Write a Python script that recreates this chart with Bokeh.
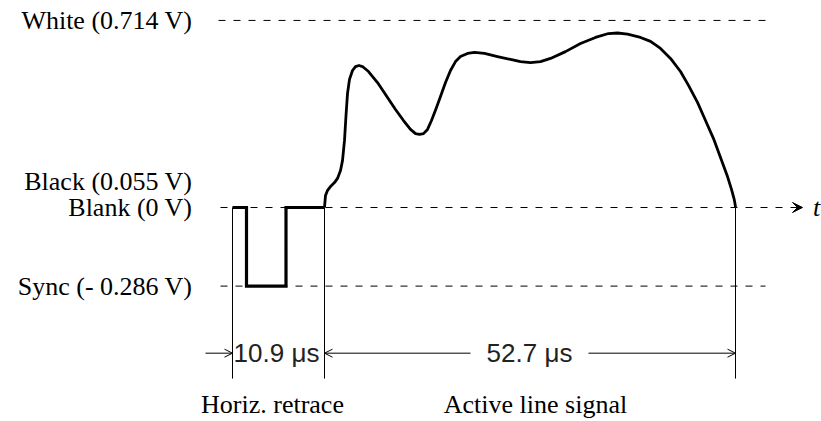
from bokeh.plotting import figure
from bokeh.models import Range1d, Arrow, OpenHead, VeeHead
from bokeh.core.properties import value
from bokeh.embed import file_html
from bokeh.resources import INLINE

# ---------------- data (diagram units) ----------------
# x: horizontal diagram position (0 = start of horizontal retrace)
# y: signal level in volts as drawn in the diagram (not to scale for sync)
level_names = ["White (0.714 V)", "Black (0.055 V)", "Blank (0 V)", "Sync (- 0.286 V)"]
level_volts = [0.714, 0.055, 0.0, -0.286]
white_y = 0.714
blank_y = 0.0
sync_y = -0.30          # drawn position of the sync level in the picture

retrace_start = 0.0
retrace_end = 92.0      # 10.9 us
active_end = 503.0      # +52.7 us
dim_labels = ["10.9 μs", "52.7 μs"]
section_labels = ["Horiz. retrace", "Active line signal"]

# sync pulse (blank -> sync -> blank)
pulse_x = [0.0, 14.0, 14.0, 53.5, 53.5, 92.0]
pulse_y = [0.0, 0.0, sync_y, sync_y, 0.0, 0.0]

# active line signal (video waveform)
wave_x = [92, 93, 95, 98, 102, 105, 108, 110, 112, 113.5, 115, 117, 120, 123,
          126.5, 130, 136, 145, 155, 163, 171, 178, 183, 187, 191, 195, 199,
          204, 208, 213, 218, 223, 228, 235, 242, 252, 265, 278, 288, 298, 308,
          318, 333, 348, 363, 376, 385, 395, 408, 418, 428, 438, 448, 456, 465,
          473, 481, 488, 495, 499, 501.5, 502.5, 503]
wave_y = [0.000, 0.046, 0.065, 0.080, 0.095, 0.111, 0.141, 0.179, 0.256, 0.351,
          0.435, 0.489, 0.523, 0.538, 0.542, 0.538, 0.519, 0.477, 0.420, 0.374,
          0.332, 0.298, 0.282, 0.279, 0.282, 0.298, 0.332, 0.382, 0.424, 0.477,
          0.523, 0.557, 0.576, 0.588, 0.592, 0.588, 0.576, 0.565, 0.557, 0.553,
          0.557, 0.569, 0.595, 0.626, 0.649, 0.664, 0.666, 0.662, 0.649, 0.634,
          0.607, 0.569, 0.519, 0.466, 0.401, 0.332, 0.263, 0.191, 0.118, 0.069,
          0.034, 0.015, 0.000]

# ---------------- figure ----------------
p = figure(width=821, height=421, output_backend="svg", toolbar_location=None,
           x_range=Range1d(-232, 589), y_range=Range1d(-0.81679, 0.79008),
           min_border=0, min_border_left=0, min_border_right=0,
           min_border_top=0, min_border_bottom=0)
p.axis.visible = False
p.grid.visible = False
p.outline_line_color = None
p.background_fill_color = "white"
p.border_fill_color = "white"

dash = "7 8"
# dashed level lines
p.segment(x0=[-14, -12, -12], y0=[white_y, blank_y, sync_y],
          x1=[533, 563, 533], y1=[white_y, blank_y, sync_y],
          line_color="black", line_width=1, line_dash=dash)
# t-axis arrow head
p.add_layout(Arrow(end=VeeHead(size=10, line_width=1, fill_color="black", line_color="black"),
                   x_start=560, y_start=blank_y, x_end=570, y_end=blank_y,
                   line_width=1, line_color="black"))
p.text(x=[584], y=[blank_y], text=["t"], text_font=value("Liberation Serif"),
       text_font_size="26px", text_font_style="italic", text_align="center",
       text_baseline="middle", text_color="black")

# vertical marker lines
dim_y = -0.556
low_y = -0.653
p.segment(x0=[retrace_start, retrace_end, active_end], y0=[0, 0, 0],
          x1=[retrace_start, retrace_end, active_end], y1=[low_y] * 3,
          line_color="black", line_width=1)

# signal
p.line(pulse_x, pulse_y, line_color="black", line_width=3.2, line_join="miter")
p.line(wave_x, wave_y, line_color="black", line_width=2.8, line_join="round")

# dimension arrows
head = lambda: OpenHead(size=8, line_width=1, line_color="black")
p.add_layout(Arrow(end=head(), x_start=-27, y_start=dim_y, x_end=retrace_start, y_end=dim_y,
                   line_width=1, line_color="black"))
p.add_layout(Arrow(end=head(), x_start=238, y_start=dim_y, x_end=retrace_end, y_end=dim_y,
                   line_width=1, line_color="black"))
p.add_layout(Arrow(end=head(), x_start=356, y_start=dim_y, x_end=active_end, y_end=dim_y,
                   line_width=1, line_color="black"))
p.text(x=[44, 297], y=[dim_y, dim_y], text=dim_labels, text_font=value("Liberation Sans"),
       text_font_size="26px", text_align="center", text_baseline="middle", text_color="#222222")

# level labels
serif = value("Liberation Serif")
p.text(x=[-40, -40, -40], y=[white_y, blank_y, sync_y],
       text=[level_names[0], level_names[2], level_names[3]], text_font=serif,
       text_font_size="26px", text_align="right", text_baseline="middle", text_color="black")
p.text(x=[-40], y=[level_volts[1]], text=[level_names[1]], text_font=serif, y_offset=-11.6,
       text_font_size="26px", text_align="right", text_baseline="middle", text_color="black")

# section labels
p.text(x=[40, 303], y=[-0.7519, -0.7519], text=section_labels, text_font=serif,
       text_font_size="26px", text_align="center", text_baseline="middle", text_color="black")

open("out.html", "w").write(file_html(p, INLINE))
